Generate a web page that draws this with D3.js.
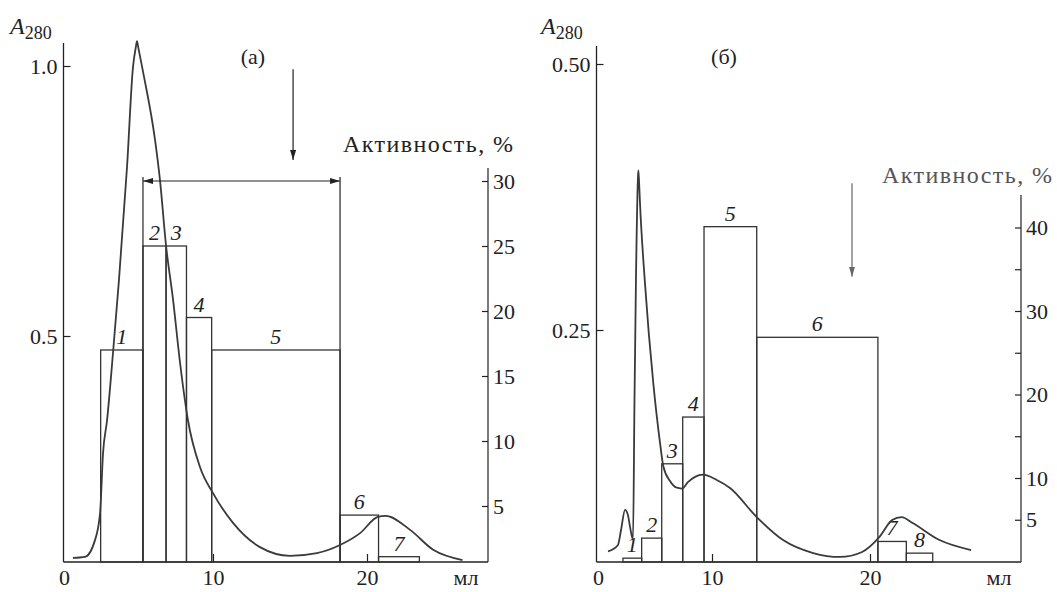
<!DOCTYPE html>
<html>
<head>
<meta charset="utf-8">
<script src="https://cdn.jsdelivr.net/npm/d3@7"></script>
<style>
  body { margin: 0; background: #fff; }
  svg, svg text { font-family: "Liberation Serif", "Times New Roman", Times, "DejaVu Serif", serif; }
  .tick line { stroke: #222; stroke-width: 1.2; }
  .tick text { font-size: 22px; fill: #222; }
</style>
</head>
<body>
<div id="chart"></div>
<script>
////////////////////////////////////////////////////////////////////////
// Data

// panel (a): absorbance curve, ml vs A280
let curveMlA = [0.6, 1.41, 2.08, 2.42, 2.62, 2.89, 3.29, 3.69, 4.23, 4.63, 4.82, 4.90, 4.98, 5.30, 6.11, 6.44,
  6.85, 7.32, 7.79, 8.32, 9.13, 10.0, 11.3, 13.05, 15.0, 16.75, 18.25, 19.55, 20.7, 21.2, 22.8, 24.3, 26.2];
let curveAbsA = [0.089, 0.091, 0.122, 0.172, 0.283, 0.344, 0.469, 0.604, 0.813, 0.998, 1.035, 1.046, 1.035, 0.990, 0.863, 0.789,
  0.667, 0.567, 0.450, 0.344, 0.257, 0.209, 0.154, 0.109, 0.093, 0.098, 0.113, 0.135, 0.165, 0.167, 0.141, 0.104, 0.085];

// panel (a): fractions (bar edges in ml) and activity, %
let fracEdgesA = [2.46, 5.30, 6.85, 8.22, 9.91, 18.25, 20.75, 23.4];
let activityA = [17, 25, 25, 19.5, 17, 4.3, 1.1];
let fracNamesA = ["1", "2", "3", "4", "5", "6", "7"];

// panel (б)
let curveMlB = [0.88, 1.75, 2.02, 2.37, 2.63, 2.81, 3.07, 3.20, 3.33, 3.50, 3.54, 3.60, 3.68, 4.12, 4.85, 5.44, 5.73,
  6.32, 6.84, 7.37, 7.89, 8.51, 9.21, 10.3, 11.14, 12.83, 14.5, 16.4, 18.1, 19.5, 20.6, 21.4, 22.0, 22.7, 24.4, 26.4];
let curveAbsB = [0.042, 0.048, 0.062, 0.081, 0.076, 0.065, 0.053, 0.184, 0.297, 0.392, 0.400, 0.390, 0.370, 0.294, 0.200, 0.144, 0.122,
  0.108, 0.102, 0.101, 0.107, 0.112, 0.114, 0.109, 0.1015, 0.0742, 0.0526, 0.0404, 0.0367, 0.0414, 0.0555, 0.0714, 0.0742, 0.0686, 0.0526, 0.0432];

let fracEdgesB = [2.19, 3.83, 5.59, 7.43, 9.3, 12.83, 20.5, 22.3, 23.97];
let activityB = [0.4, 2.8, 11.7, 17.3, 40.1, 26.85, 2.4, 1.0];
let fracNamesB = ["1", "2", "3", "4", "5", "6", "7", "8"];

// axis ticks
let xTicks = [0, 10, 20];
let absTicksA = [0.5, 1.0];
let absTicksB = [0.25, 0.50];
let actTicksA = [5, 10, 15, 20, 25, 30];
let actTicksB = [5, 10, 15, 20, 25, 30, 35, 40];
let actLabelsB = [5, 10, 20, 30, 40];

// annotations: bracket (ml from, ml to, activity level) and the down arrows (ml, A280 top, A280 bottom)
let bracketA = [5.30, 18.25, 30];
let arrowA = [15.2, 0.994, 0.826];
let arrowB = [18.86, 0.388, 0.30];

////////////////////////////////////////////////////////////////////////
// Layout

let width = 1057;
let height = 592;
let serif = "'Liberation Serif', 'Times New Roman', Times, 'DejaVu Serif', serif";

let svg = d3.select("#chart")
  .append("svg")
  .attr("width", width)
  .attr("height", height)
  .attr("font-family", serif);

let defs = svg.append("defs");
[["head", "#222"], ["headGrey", "#666"]].forEach((m) => {
  defs.append("marker")
    .attr("id", m[0])
    .attr("viewBox", "0 0 10 6")
    .attr("refX", 10)
    .attr("refY", 3)
    .attr("markerWidth", 10)
    .attr("markerHeight", 6)
    .attr("markerUnits", "userSpaceOnUse")
    .attr("orient", "auto-start-reverse")
    .append("path")
    .attr("d", "M0,0L10,3L0,6Z")
    .attr("fill", m[1]);
});

// each panel gets its own (slightly uneven, as printed) scales
let panels = [
  {
    name: "(а)", nameX: 253, nameY: 64,
    x: d3.scaleLinear().domain([0, 10, 20]).range([64, 213, 367]),
    yA: d3.scaleLinear().domain([0, 1]).range([606, 66]),
    yP: d3.scaleLinear().domain([0, 30]).range([571, 181]),
    left: 63.5, right: 488, base: 562, absTop: 43, actTop: 168,
    absTicks: absTicksA, absFmt: d3.format(".1f"),
    actTicks: actTicksA, actLabels: actTicksA,
    curveMl: curveMlA, curveAbs: curveAbsA,
    edges: fracEdgesA, act: activityA, names: fracNamesA,
    actTitleX: 513, actTitleY: 152, actTitleColor: "#222",
    labelX: 10, arrow: arrowA, arrowColor: "#222"
  },
  {
    name: "(б)", nameX: 724, nameY: 64,
    x: d3.scaleLinear().domain([0, 10, 20]).range([598, 712, 870]),
    yA: d3.scaleLinear().domain([0, 0.5]).range([596, 64]),
    yP: d3.scaleLinear().domain([0, 40]).range([561.5, 227.5]),
    left: 596.5, right: 1021, base: 562, absTop: 46, actTop: 195,
    absTicks: absTicksB, absFmt: d3.format(".2f"),
    actTicks: actTicksB, actLabels: actLabelsB,
    curveMl: curveMlB, curveAbs: curveAbsB,
    edges: fracEdgesB, act: activityB, names: fracNamesB,
    actTitleX: 1052, actTitleY: 183, actTitleColor: "#555",
    labelX: 541, arrow: arrowB, arrowColor: "#666"
  }
];

panels.forEach(drawPanel);

////////////////////////////////////////////////////////////////////////
// Drawing

function drawPanel(p) {
  let g = svg.append("g");

  // axis lines
  g.append("line")
    .attr("x1", p.left).attr("x2", p.left)
    .attr("y1", p.absTop).attr("y2", p.base)
    .attr("stroke", "#222").attr("stroke-width", 1.3);
  g.append("line")
    .attr("x1", p.left).attr("x2", p.right)
    .attr("y1", p.base).attr("y2", p.base)
    .attr("stroke", "#222").attr("stroke-width", 1.3);
  g.append("line")
    .attr("x1", p.right).attr("x2", p.right)
    .attr("y1", p.actTop).attr("y2", p.base)
    .attr("stroke", "#222").attr("stroke-width", 1.2);

  // x axis (ticks point up)
  let xAxis = d3.axisBottom(p.x)
    .tickValues(xTicks)
    .tickSizeInner(-8)
    .tickSizeOuter(0)
    .tickPadding(7)
    .tickFormat(d3.format("d"));
  let xg = g.append("g")
    .attr("transform", "translate(0," + p.base + ")")
    .call(xAxis)
    .attr("font-family", serif)
    .attr("font-size", 22);
  xg.select(".domain").remove();
  xg.selectAll(".tick").filter((d) => d === 0).select("line").remove();

  g.append("text")
    .attr("x", p.right - 22)
    .attr("y", 585)
    .attr("text-anchor", "middle")
    .attr("font-size", 22)
    .attr("fill", "#222")
    .text("мл");

  // absorbance axis (ticks point right)
  let aAxis = d3.axisLeft(p.yA)
    .tickValues(p.absTicks)
    .tickSizeInner(-7)
    .tickSizeOuter(0)
    .tickPadding(6)
    .tickFormat(p.absFmt);
  let ag = g.append("g")
    .attr("transform", "translate(" + p.left + ",0)")
    .call(aAxis)
    .attr("font-family", serif)
    .attr("font-size", 22);
  ag.select(".domain").remove();

  let aTitle = g.append("text")
    .attr("x", p.labelX)
    .attr("y", 34)
    .attr("fill", "#222");
  aTitle.append("tspan")
    .attr("font-style", "italic")
    .attr("font-size", 24)
    .text("A");
  aTitle.append("tspan")
    .attr("font-size", 18)
    .attr("dy", 5)
    .text("280");

  // activity axis (ticks point left)
  let pAxis = d3.axisRight(p.yP)
    .tickValues(p.actTicks)
    .tickSizeInner(-6)
    .tickSizeOuter(0)
    .tickPadding(5)
    .tickFormat((d) => p.actLabels.indexOf(d) >= 0 ? d : "");
  let pg = g.append("g")
    .attr("transform", "translate(" + p.right + ",0)")
    .call(pAxis)
    .attr("font-family", serif)
    .attr("font-size", 22);
  pg.select(".domain").remove();

  g.append("text")
    .attr("x", p.actTitleX)
    .attr("y", p.actTitleY)
    .attr("text-anchor", "end")
    .attr("font-size", 24)
    .attr("textLength", 170)
    .attr("lengthAdjust", "spacing")
    .attr("fill", p.actTitleColor)
    .text("Активность, %");

  // panel name
  g.append("text")
    .attr("x", p.nameX)
    .attr("y", p.nameY)
    .attr("text-anchor", "middle")
    .attr("font-size", 22)
    .attr("fill", "#222")
    .text(p.name);

  // activity bars for fractions
  let bars = p.act.map((v, i) => ({ x0: p.edges[i], x1: p.edges[i + 1], v: v, name: p.names[i] }));

  g.append("g")
    .selectAll("rect")
    .data(bars)
    .enter()
    .append("rect")
    .attr("x", (d) => p.x(d.x0))
    .attr("width", (d) => p.x(d.x1) - p.x(d.x0))
    .attr("y", (d) => p.yP(d.v))
    .attr("height", (d) => Math.max(0, p.base - p.yP(d.v)))
    .attr("fill", "none")
    .attr("stroke", "#333")
    .attr("stroke-width", 1.3);

  g.append("g")
    .selectAll("text")
    .data(bars)
    .enter()
    .append("text")
    .attr("x", (d) => (p.x(d.x0) + p.x(d.x1)) / 2)
    .attr("y", (d) => p.yP(d.v) - 6)
    .attr("text-anchor", "middle")
    .attr("font-style", "italic")
    .attr("font-size", 22)
    .attr("fill", "#222")
    .text((d) => d.name);

  // absorbance curve
  let pts = p.curveMl.map((m, i) => [m, p.curveAbs[i]]);
  let lineCreator = d3.line()
    .x((d) => p.x(d[0]))
    .y((d) => p.yA(d[1]))
    .curve(d3.curveMonotoneX);

  g.append("path")
    .datum(pts)
    .attr("fill", "none")
    .attr("stroke", "#3a3a3a")
    .attr("stroke-width", 1.8)
    .attr("stroke-linejoin", "round")
    .attr("d", lineCreator);

  // down arrow
  g.append("line")
    .attr("x1", p.x(p.arrow[0])).attr("x2", p.x(p.arrow[0]))
    .attr("y1", p.yA(p.arrow[1])).attr("y2", p.yA(p.arrow[2]))
    .attr("stroke", p.arrowColor)
    .attr("stroke-width", 1.2)
    .attr("marker-end", p.arrowColor === "#222" ? "url(#head)" : "url(#headGrey)");
}

// bracket over the pooled fractions in panel (а)
let pa = panels[0];
let by = pa.yP(bracketA[2]);
svg.append("line")
  .attr("x1", pa.x(bracketA[0])).attr("x2", pa.x(bracketA[1]))
  .attr("y1", by).attr("y2", by)
  .attr("stroke", "#222")
  .attr("stroke-width", 1.2)
  .attr("marker-start", "url(#head)")
  .attr("marker-end", "url(#head)");
[bracketA[0], bracketA[1]].forEach((m) => {
  svg.append("line")
    .attr("x1", pa.x(m)).attr("x2", pa.x(m))
    .attr("y1", by - 4).attr("y2", pa.base)
    .attr("stroke", "#333")
    .attr("stroke-width", 1.3);
});
</script>
</body>
</html>
